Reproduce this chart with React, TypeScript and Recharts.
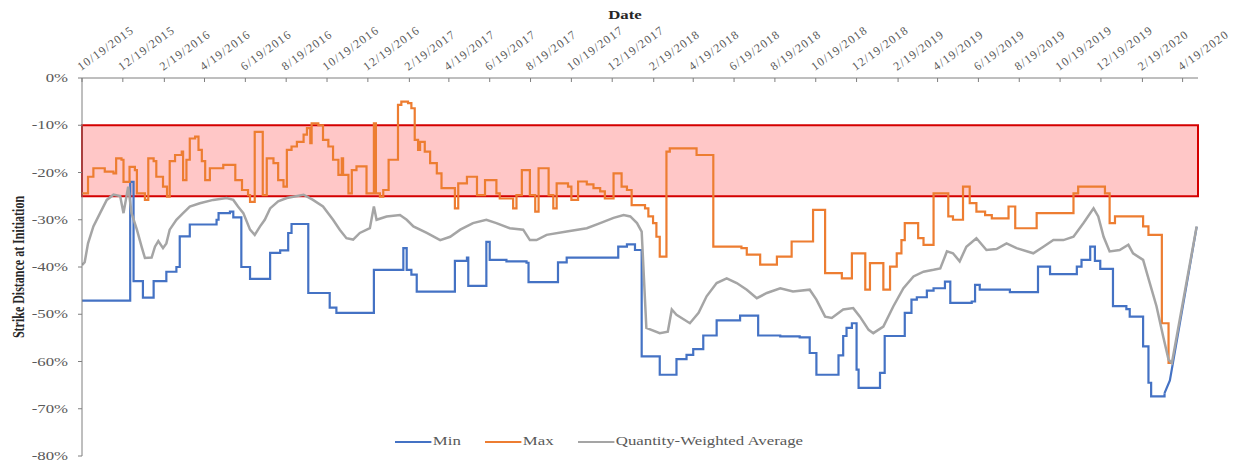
import React from 'react';
import { LineChart, Line, XAxis, YAxis, ReferenceArea } from 'recharts';

// x values are days since 10/19/2015
const tickLabels = [
  '10/19/2015', '12/19/2015', '2/19/2016', '4/19/2016', '6/19/2016', '8/19/2016', '10/19/2016',
  '12/19/2016', '2/19/2017', '4/19/2017', '6/19/2017', '8/19/2017', '10/19/2017', '12/19/2017',
  '2/19/2018', '4/19/2018', '6/19/2018', '8/19/2018', '10/19/2018', '12/19/2018', '2/19/2019',
  '4/19/2019', '6/19/2019', '8/19/2019', '10/19/2019', '12/19/2019', '2/19/2020', '4/19/2020',
];
const yTicks = [0, -10, -20, -30, -40, -50, -60, -70, -80];
const LAST_DAY = 1667;
const BAND_TOP = -10;
const BAND_BOTTOM = -25;

const minDays = [
  0, 72, 77, 91, 107, 126, 141, 146, 161, 201, 204, 221, 226, 238, 251, 281, 296, 308, 313, 338, 370, 380,
  436, 480, 485, 492, 500, 557, 575, 577, 604, 609, 634, 664, 667, 711, 724, 801, 814, 826, 836,
  863, 888, 903, 913, 928, 948, 983, 1010, 1043, 1072, 1087, 1097, 1130, 1137, 1142, 1150, 1157, 1160,
  1192, 1199, 1229, 1239, 1247, 1262, 1272, 1289, 1297, 1329, 1334, 1341, 1386, 1428, 1446, 1486, 1493,
  1506, 1513, 1521, 1540, 1560, 1565, 1585, 1593, 1597, 1617,
];
const minValues = [
  -47.1, -22, -43, -46.5, -43, -41, -40, -33.5, -31, -30, -28.6, -28.3, -29.5, -40, -42.5, -37, -36.5, -32.8, -30.9, -45.5, -48.6, -49.7,
  -40.6, -36, -40.6, -41.6, -45.2, -38.7, -38, -44, -34.7, -38.5, -38.8, -39.1, -43.2, -39, -38, -35.7, -35.2, -36.4, -58.9,
  -62.8, -59.5, -58.6, -57.4, -54.5, -51.3, -50.3, -54.5, -54.7, -54.9, -58.2, -62.8, -58.7, -54.6, -52.9, -51.9, -61.7, -65.6,
  -62.4, -54.6, -49.7, -46.9, -46.4, -45, -44.5, -43.1, -47.6, -47.3, -43.8, -44.8, -45.3, -39.9, -41.5, -39.9, -38.5,
  -35.7, -38.7, -40.4, -48.3, -48.9, -50.5, -56.8, -64.5, -67.4, -66.7,
];
// closing climb of the Min line, drawn straight
const minTailDays = [1617, 1625, 1665];
const minTailValues = [-66.7, -64, -31.5];

const maxDays = [
  0, 9, 17, 34, 47, 51, 59, 62, 71, 79, 82, 94, 99, 107, 111, 121, 127, 131, 139, 149, 151, 156, 161, 169,
  174, 179, 184, 191, 211, 229, 239, 248, 251, 258, 270, 276, 286, 293, 301, 306, 313, 321, 331, 336, 341,
  343, 353, 360, 368, 375, 383, 388, 390, 398, 403, 410, 425, 436, 439, 445, 450, 458, 472, 477, 487, 492,
  497, 502, 505, 512, 520, 530, 537, 557, 562, 575, 590, 602, 619, 624, 644, 649, 657, 669, 677, 682, 697,
  704, 709, 726, 731, 741, 754, 764, 774, 781, 794, 806, 814, 821, 841, 846, 853, 858, 863, 873, 878, 918,
  943, 985, 993, 1013, 1038, 1060, 1092, 1110, 1135, 1150, 1170, 1177, 1197, 1207, 1217, 1224, 1229, 1249,
  1257, 1272, 1294, 1301, 1316, 1326, 1336, 1349, 1359, 1384, 1394, 1426, 1481, 1488, 1528, 1535, 1543,
  1585, 1593, 1613, 1623, 1628,
];
const maxValues = [
  -24.4, -20.9, -19.1, -19.8, -20.2, -17, -17.3, -22, -18.8, -19.5, -24.4, -25.8, -17, -17.6, -20.9, -23, -25.1, -17.6, -16.3, -15.6, -21.6, -17.3, -12.8, -12.4,
  -15.2, -17.6, -21.6, -19.1, -18.4, -21.6, -23.7, -24.8, -26.2, -11.4, -24.8, -17, -18, -21.6, -23, -15.2, -14.5, -13.5, -12, -10.6, -13.8,
  -9.6, -10, -13.1, -14.5, -17.3, -20.5, -17, -20.5, -24.4, -19.5, -18.7, -24.4, -9.6, -24.4, -25.1, -23.7, -17.3, -5.7, -5, -5.3, -6.4,
  -13.1, -15.2, -13.5, -15.6, -18, -20.2, -23.3, -27.6, -22.3, -20.9, -24.8, -21.6, -24.4, -25.5, -27.6, -24.8, -19.5, -24.8, -28.3, -19.1, -24.8,
  -27.6, -22.3, -23, -25.8, -21.9, -22.5, -23.3, -24, -25.5, -20.2, -23, -23.7, -26.9, -27.6, -29.3, -30.7, -33.6, -37.8, -15.6, -14.9, -16.3,
  -35.7, -36, -37.4, -39.5, -37.8, -34.6, -27.9, -41.3, -42.4, -37.1, -44.8, -39.2, -44.8, -39.9, -37.1, -34.3, -30.7, -33.9,
  -35.3, -24.4, -29.3, -30, -23, -26.5, -28.3, -29, -29.7, -27.2, -31.8, -28.6, -24.4, -23, -24.4, -30.7, -29.3,
  -31.4, -33.2, -51.9, -60.3, -60.3,
];

const avgDays = [
  0, 4, 9, 17, 27, 37, 47, 57, 62, 69, 74, 82, 89, 94, 104, 109, 114, 121, 126, 131, 141, 151, 161, 176, 196,
  216, 226, 233, 241, 251, 258, 266, 273, 281, 293, 306, 331, 345, 360, 375, 385, 395, 405, 415, 430, 436, 440,
  455, 475, 485, 495, 515, 535, 550, 565, 584, 604, 619, 639, 659, 669, 679, 694, 724, 754, 774, 794, 809, 819,
  829, 836, 843, 863, 875, 881, 888, 908, 921, 933, 948, 963, 978, 993, 1008, 1023, 1043, 1062, 1087, 1097,
  1110, 1120, 1137, 1152, 1162, 1175, 1182, 1197, 1212, 1227, 1242, 1257, 1272, 1282, 1292, 1301, 1311, 1321,
  1336, 1351, 1366, 1381, 1396, 1421, 1436, 1451, 1466, 1481, 1496, 1511, 1518, 1526, 1535, 1550, 1563, 1570,
  1585, 1595, 1605, 1615, 1623, 1628, 1665,
];
const avgValues = [
  -39.6, -39, -35, -31.4, -28.6, -25.8, -24.7, -25, -28.6, -23, -28.6, -32.1, -35.7, -38.1, -38, -35.7, -34.5, -36, -35, -32.1, -30, -28.6, -27.2, -26.5, -25.8,
  -25.4, -25.8, -27.2, -28.6, -32.1, -33.2, -31.4, -30, -27.6, -26.1, -25.4, -24.7, -25.8, -27.2, -30, -32.1, -33.9, -34.2, -32.8, -31.8, -27.2, -30,
  -29.3, -29, -30, -31.4, -32.8, -34.3, -33.6, -32.1, -30.7, -30, -30.7, -31.8, -32.1, -34.3, -34.3, -33.2, -32.5, -31.8, -30.7, -29.6, -29, -29.3,
  -30.7, -32.5, -52.9, -54, -53.7, -49, -50.1, -51.9, -49.7, -46.2, -43.4, -42.4, -43.4, -44.8, -46.6, -45.5, -44.5, -45.2, -44.8, -46.9,
  -50.5, -50.8, -49, -48.7, -50.5, -53.3, -54, -52.6, -48.3, -44.5, -42, -41, -40.6, -40.3, -36.7, -37.1, -38.8, -35.7,
  -33.9, -36.4, -36.2, -35, -36, -37.1, -35.7, -34.3, -34.3, -33.6, -30.7, -27.6, -29.3, -33.6, -36.7, -36.4, -35.3, -37.1,
  -38.5, -43.4, -48.3, -54.7, -59.6, -60.3, -31.4,
];

const START = Date.UTC(2015, 9, 19);
const toDay = (label: string) => {
  const [m, d, y] = label.split('/').map(Number);
  return Math.round((Date.UTC(y, m - 1, d) - START) / 86400000);
};
const tickDays = tickLabels.map(toDay);

const zip = (days: number[], values: number[]) => days.map((day, i) => ({ day, v: values[i] }));
const minData = zip(minDays, minValues);
const minTailData = zip(minTailDays, minTailValues);
const maxData = zip(maxDays, maxValues);
const avgData = zip(avgDays, avgValues);

const FONT = '"Liberation Serif", "Times New Roman", serif';
const TEXT = '#595959';
const STRETCH = 1.4;

const DateTick = (props: any) => {
  const { x, y, payload } = props;
  const label = tickLabels[tickDays.indexOf(payload.value)] ?? '';
  const tx = x - 1;
  const ty = y - 7;
  return (
    <g>
      <line x1={x} x2={x} y1={y} y2={y + 4} stroke="#7f7f7f" />
      <text
        x={tx}
        y={ty}
        transform={`rotate(-36 ${tx} ${ty})`}
        textAnchor="start"
        fontSize={12}
        letterSpacing={1.2}
        fontFamily={FONT}
        fill={TEXT}
      >
        {label}
      </text>
    </g>
  );
};

const PctTick = (props: any) => {
  const { x, y, payload } = props;
  return (
    <text
      transform={`translate(${x},${y}) scale(${STRETCH},1)`}
      textAnchor="end"
      dy="0.35em"
      fontSize={12}
      fontFamily={FONT}
      fill={TEXT}
    >
      {`${payload.value}%`}
    </text>
  );
};

const dateTitle = () => (
  <text
    transform={`translate(625,19) scale(${STRETCH},1)`}
    textAnchor="middle"
    fontSize={12}
    fontWeight="bold"
    fontFamily={FONT}
    fill="#262626"
  >
    Date
  </text>
);

const yTitle = () => (
  <text
    transform={`translate(24,267) scale(${STRETCH},1) rotate(-90)`}
    textAnchor="middle"
    fontSize={12}
    fontWeight="bold"
    fontFamily={FONT}
    fill="#262626"
  >
    Strike Distance at Initiation
  </text>
);

const legendItems = [
  { name: 'Min', color: '#4472C4', left: 395 },
  { name: 'Max', color: '#ED7D31', left: 485 },
  { name: 'Quantity-Weighted Average', color: '#A5A5A5', left: 578 },
];

export default function App() {
  return (
    <div style={{ position: 'absolute', left: 0, top: 0, width: 1237, height: 464, background: '#fff' }}>
      <LineChart width={1237} height={464} margin={{ top: 0, right: 39, bottom: 8, left: 0 }}>
        <XAxis
          dataKey="day"
          type="number"
          orientation="top"
          domain={[0, LAST_DAY]}
          ticks={tickDays}
          interval={0}
          height={78}
          tickSize={0}
          tickMargin={0}
          tickLine={false}
          axisLine={{ stroke: '#7f7f7f' }}
          tick={<DateTick />}
          label={dateTitle}
          allowDataOverflow
        />
        <YAxis
          type="number"
          domain={[-80, 0]}
          ticks={yTicks}
          interval={0}
          width={82}
          tickSize={4}
          tickMargin={10}
          tickLine={{ stroke: '#7f7f7f' }}
          axisLine={{ stroke: '#7f7f7f' }}
          tick={<PctTick />}
          label={yTitle}
        />
        <ReferenceArea
          x1={0}
          x2={LAST_DAY}
          y1={BAND_TOP}
          y2={BAND_BOTTOM}
          fill="#FF0000"
          fillOpacity={0.22}
          stroke="#D40000"
          strokeWidth={2}
        />
        <Line
          data={minData}
          dataKey="v"
          type="stepAfter"
          stroke="#4472C4"
          strokeWidth={2.2}
          dot={false}
          isAnimationActive={false}
        />
        <Line
          data={minTailData}
          dataKey="v"
          type="linear"
          stroke="#4472C4"
          strokeWidth={2.2}
          dot={false}
          isAnimationActive={false}
        />
        <Line
          data={maxData}
          dataKey="v"
          type="stepAfter"
          stroke="#ED7D31"
          strokeWidth={2.2}
          dot={false}
          isAnimationActive={false}
        />
        <Line
          data={avgData}
          dataKey="v"
          type="linear"
          stroke="#A5A5A5"
          strokeWidth={2.5}
          dot={false}
          isAnimationActive={false}
        />
      </LineChart>
      {legendItems.map((item) => (
        <div
          key={item.name}
          style={{
            position: 'absolute',
            left: item.left,
            top: 434,
            display: 'flex',
            alignItems: 'center',
            transform: `scaleX(${STRETCH})`,
            transformOrigin: 'left center',
            fontFamily: FONT,
            fontSize: 12,
            color: TEXT,
            whiteSpace: 'nowrap',
          }}
        >
          <span style={{ display: 'inline-block', width: 26, height: 2, background: item.color, marginRight: 1 }} />
          <span>{item.name}</span>
        </div>
      ))}
    </div>
  );
}
